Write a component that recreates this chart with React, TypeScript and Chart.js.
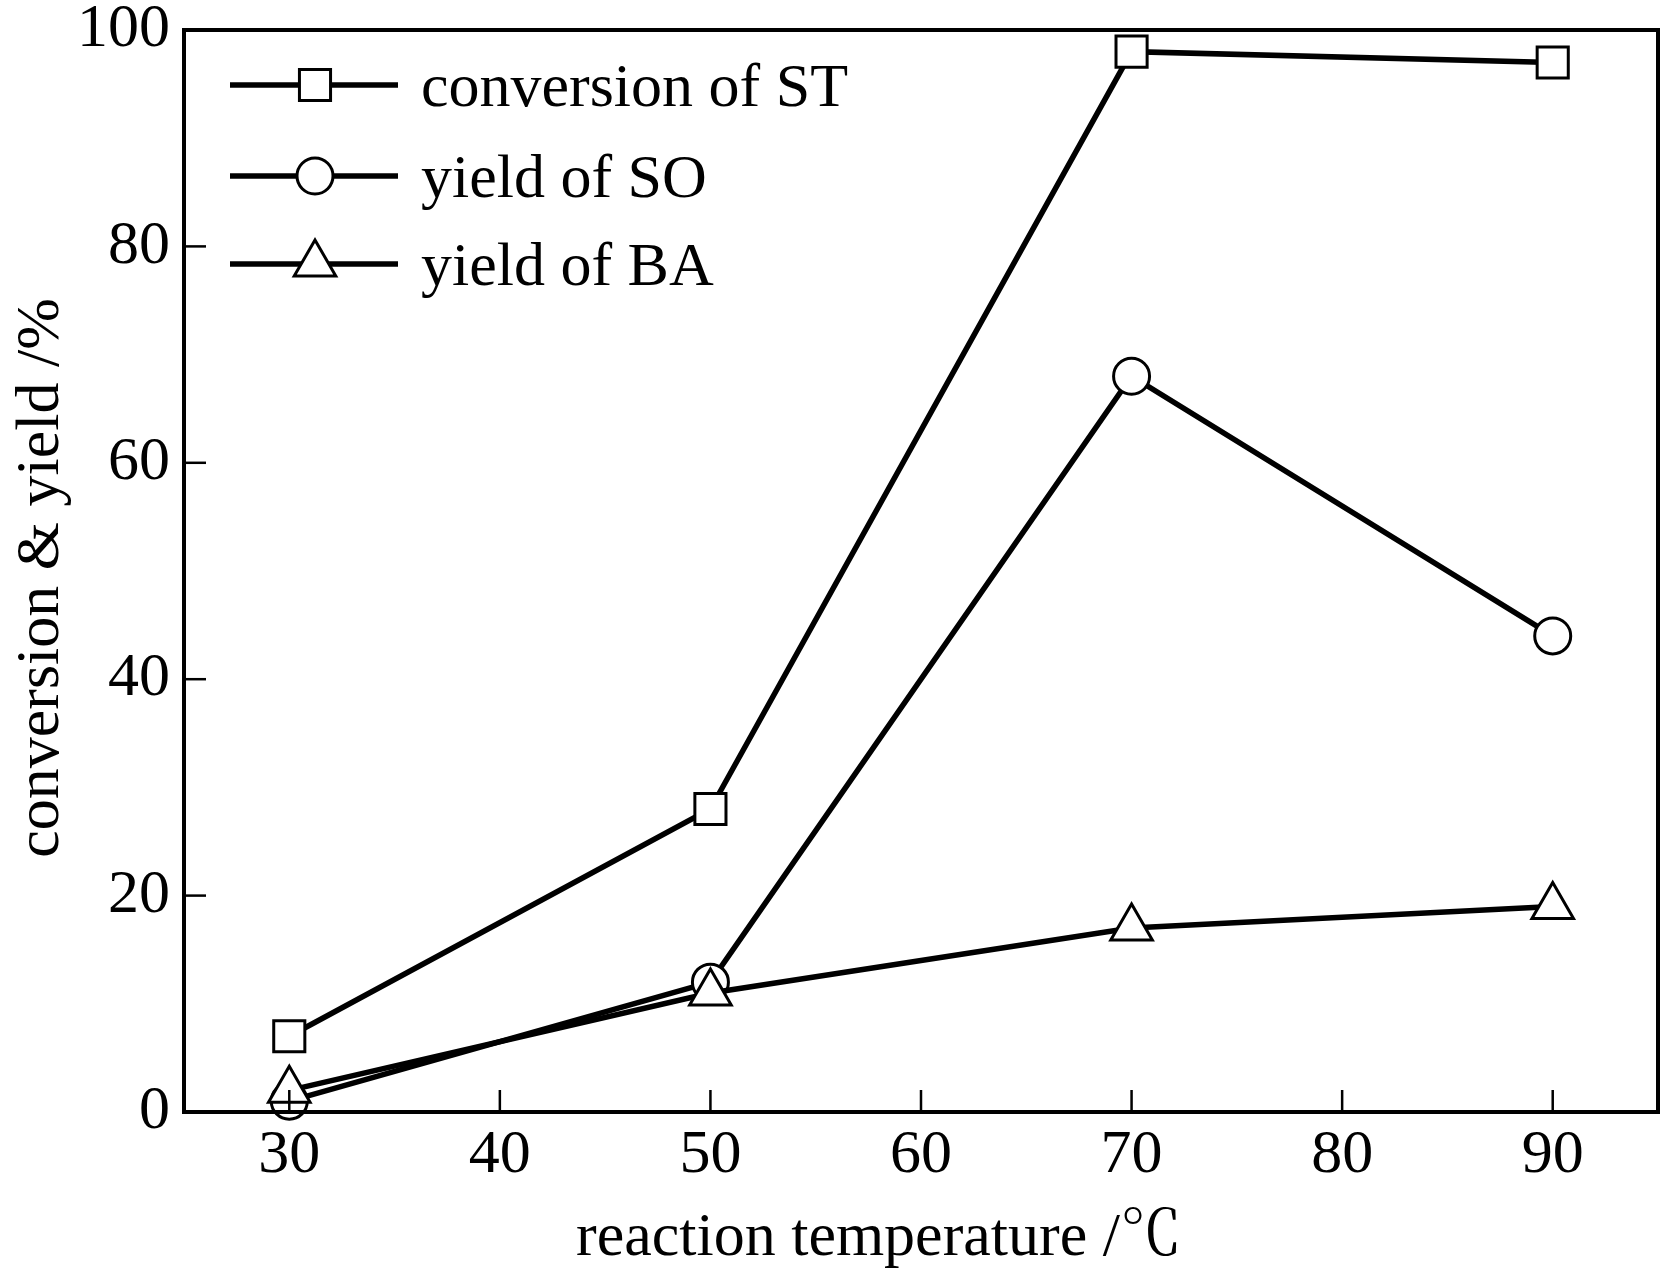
import React, { useEffect, useRef } from "react";
import { Chart, registerables } from "chart.js";

Chart.register(...registerables);

const temperatures = [30, 50, 70, 90];
const conversionST = [7, 28, 98, 97];
const yieldSO = [1, 12, 68, 44];
const yieldBA = [2, 11, 17, 19];
const xTickValues = [30, 40, 50, 60, 70, 80, 90];
const yTickValues = [0, 20, 40, 60, 80, 100];
const seriesLabels = ["conversion of ST", "yield of SO", "yield of BA"];
const xTitle = "reaction temperature /\u2103";
const yTitle = "conversion & yield /%";

const FONT = "'Liberation Serif', 'Times New Roman', 'Noto Serif CJK SC', 'Noto Sans CJK SC', serif";
const FS = 62;

function drawMarker(ctx: CanvasRenderingContext2D, style: string, x: number, y: number, r: number) {
  ctx.beginPath();
  if (style === "rect") {
    const s = Math.SQRT1_2 * r;
    ctx.rect(x - s, y - s, 2 * s, 2 * s);
  } else if (style === "circle") {
    ctx.arc(x, y, r, 0, Math.PI * 2);
  } else {
    const a = (Math.PI * 2) / 3;
    ctx.moveTo(x, y - r);
    ctx.lineTo(x + Math.sin(a) * r, y - Math.cos(a) * r);
    ctx.lineTo(x + Math.sin(2 * a) * r, y - Math.cos(2 * a) * r);
    ctx.closePath();
  }
  ctx.fillStyle = "#fff";
  ctx.fill();
  ctx.stroke();
}

const framePlugin = {
  id: "frame",
  afterDatasetsDraw(chart: any) {
    const { ctx, chartArea } = chart;
    const { left, right, top, bottom } = chartArea;
    ctx.save();
    ctx.strokeStyle = "#000";
    ctx.lineWidth = 2.5;
    const xs = chart.scales.x;
    const ys = chart.scales.y;
    xTickValues.forEach((v) => {
      const px = xs.getPixelForValue(v);
      ctx.beginPath();
      ctx.moveTo(px, bottom);
      ctx.lineTo(px, bottom - 22);
      ctx.stroke();
    });
    yTickValues.forEach((v) => {
      const py = ys.getPixelForValue(v);
      ctx.beginPath();
      ctx.moveTo(left, py);
      ctx.lineTo(left + 22, py);
      ctx.stroke();
    });
    ctx.lineWidth = 4;
    ctx.strokeRect(left, top, right - left, bottom - top);

    const rows = [85, 176, 264];
    chart.data.datasets.forEach((ds: any, i: number) => {
      const y = rows[i];
      ctx.lineWidth = ds.borderWidth;
      ctx.strokeStyle = "#000";
      ctx.beginPath();
      ctx.moveTo(230, y);
      ctx.lineTo(398, y);
      ctx.stroke();
      ctx.lineWidth = ds.pointBorderWidth;
      drawMarker(ctx, ds.pointStyle, 315, y, ds.pointRadius);
      ctx.fillStyle = "#000";
      ctx.font = `${FS}px ${FONT}`;
      ctx.textAlign = "left";
      ctx.textBaseline = "alphabetic";
      ctx.fillText(ds.label, 421, y + 21);
    });

    ctx.fillStyle = "#000";
    ctx.font = `${FS}px ${FONT}`;
    ctx.textAlign = "left";
    ctx.textBaseline = "alphabetic";
    ctx.fillText(xTitle, 576, 1255);

    ctx.save();
    ctx.translate(58, 578);
    ctx.rotate(-Math.PI / 2);
    ctx.textAlign = "center";
    ctx.fillText(yTitle, 0, 0);
    ctx.restore();
    ctx.restore();
  },
};

export default function App() {
  const ref = useRef<HTMLCanvasElement | null>(null);
  useEffect(() => {
    if (!ref.current) return;
    const mk = (label: string, data: number[], style: string, r: number, order: number) => ({
      label,
      data: temperatures.map((t, i) => ({ x: t, y: data[i] })),
      borderColor: "#000",
      backgroundColor: "#fff",
      borderWidth: 5.5,
      pointStyle: style,
      pointRadius: r,
      pointBorderWidth: 3,
      pointBorderColor: "#000",
      pointBackgroundColor: "#fff",
      tension: 0,
      order,
      clip: false as any,
    });
    const chart = new Chart(ref.current, {
      type: "line",
      data: {
        datasets: [
          mk(seriesLabels[0], conversionST, "rect", 22, 2),
          mk(seriesLabels[1], yieldSO, "circle", 18, 1),
          mk(seriesLabels[2], yieldBA, "triangle", 24, 0),
        ],
      },
      options: {
        animation: false,
        responsive: false,
        devicePixelRatio: 1,
        layout: { autoPadding: false, padding: { top: 30, right: 4, left: 0, bottom: 0 } },
        plugins: { legend: { display: false }, tooltip: { enabled: false } },
        scales: {
          x: {
            type: "linear",
            min: 25,
            max: 95,
            afterBuildTicks: (s: any) => {
              s.ticks = xTickValues.map((v) => ({ value: v }));
            },
            afterFit: (s: any) => {
              s.height = 165;
              s.paddingLeft = 0;
              s.paddingRight = 0;
            },
            grid: { display: false, drawTicks: false, tickLength: 0 },
            border: { display: false },
            ticks: {
              color: "#000",
              font: { family: FONT, size: FS },
              padding: 7,
              maxRotation: 0,
              autoSkip: false,
            },
          },
          y: {
            type: "linear",
            min: 0,
            max: 100,
            afterBuildTicks: (s: any) => {
              s.ticks = yTickValues.map((v) => ({ value: v }));
            },
            afterFit: (s: any) => {
              s.width = 184;
              s.paddingTop = 0;
              s.paddingBottom = 0;
            },
            grid: { display: false, drawTicks: false, tickLength: 0 },
            border: { display: false },
            ticks: {
              color: "#000",
              font: { family: FONT, size: FS },
              padding: 14,
              autoSkip: false,
            },
          },
        },
      },
      plugins: [framePlugin],
    });
    return () => chart.destroy();
  }, []);
  return (
    <div style={{ position: "absolute", left: 0, top: 0, width: 1662, height: 1277, background: "#fff" }}>
      <canvas ref={ref} width={1662} height={1277} style={{ display: "block", width: 1662, height: 1277 }} />
    </div>
  );
}
